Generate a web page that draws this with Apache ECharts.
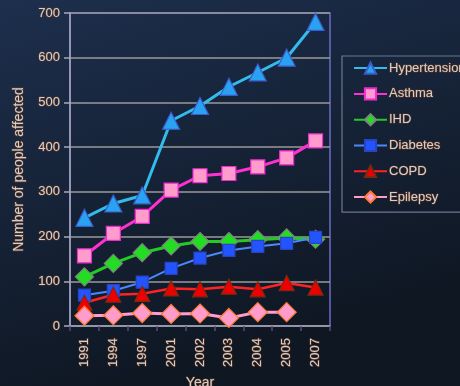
<!DOCTYPE html>
<html>
<head>
<meta charset="utf-8">
<script src="https://cdn.jsdelivr.net/npm/echarts@6/dist/echarts.min.js"></script>
<style>
  html, body { margin: 0; padding: 0; background: #16223a; }
  #chart { width: 460px; height: 386px; }
</style>
</head>
<body>
<div id="chart"></div>
<script>
// Survey years along the category axis
const years = ['1991', '1994', '1997', '2001', '2002', '2003', '2004', '2005', '2007'];

// People affected per condition, one value per survey year
const hypertension = [242, 274, 292, 459, 492, 535, 567, 600, 680];
const asthma       = [157, 207, 245, 304, 336, 341, 356, 376, 414];
const ihd          = [110, 140, 164, 179, 189, 189, 193, 197, 194];
const diabetes     = [ 69,  79,  98, 129, 152, 169, 178, 185, 198];
const copd         = [ 52,  70,  72,  84,  82,  88,  82,  96,  86];
const epilepsy     = [ 23,  24,  29,  27,  28,  18,  31,  31, null];

// Value axis ticks
const yTicks = [0, 100, 200, 300, 400, 500, 600, 700];

const textStyle = {
  color: '#d4d0cc',
  fontFamily: 'Liberation Sans, Arial, sans-serif',
  fontSize: 13,
  textBorderColor: 'rgba(110,60,35,0.85)',
  textBorderWidth: 1.2
};

function lineSeries(name, data, lineColor, lineWidth, symbol, size, fill, border) {
  return {
    name: name,
    type: 'line',
    data: data,
    symbol: symbol,
    symbolSize: size,
    connectNulls: false,
    lineStyle: { color: lineColor, width: lineWidth },
    itemStyle: { color: fill, borderColor: border, borderWidth: 1.2 }
  };
}

const chart = echarts.init(document.getElementById('chart'), null, { renderer: 'canvas' });

chart.setOption({
  backgroundColor: {
    type: 'linear', x: 0, y: 0, x2: 0.25, y2: 1,
    colorStops: [
      { offset: 0, color: '#1d2f4d' },
      { offset: 1, color: '#0f1723' }
    ]
  },
  animation: false,
  grid: {
    left: 70, right: 130, top: 13, bottom: 60,
    outerBoundsMode: 'none',
    containLabel: false,
    show: true,
    borderColor: '#6c6cc8',
    borderWidth: 1.5,
    backgroundColor: 'transparent'
  },
  legend: {
    left: 342, top: 56,
    orient: 'vertical',
    padding: [5, 30, 8, 11],
    itemWidth: 33,
    itemHeight: 14,
    itemGap: 11.6,
    borderColor: '#6a7890',
    borderWidth: 1.2,
    textStyle: Object.assign({}, textStyle, { padding: [0, 0, 0, -3] }),
    data: ['Hypertension', 'Asthma', 'IHD', 'Diabetes', 'COPD', 'Epilepsy']
  },
  xAxis: {
    type: 'category',
    data: years,
    boundaryGap: true,
    name: 'Year',
    nameLocation: 'middle',
    nameGap: 48,
    nameTextStyle: Object.assign({}, textStyle, { fontSize: 14 }),
    axisLine: { lineStyle: { color: '#9a9aae', width: 1.5 } },
    axisTick: { show: true, length: 5, lineStyle: { color: '#5a4a78', width: 1.5 } },
    axisLabel: Object.assign({}, textStyle, { rotate: 90, margin: 12 }),
    splitLine: { show: false }
  },
  yAxis: {
    type: 'value',
    min: yTicks[0],
    max: yTicks[yTicks.length - 1],
    interval: yTicks[1] - yTicks[0],
    name: 'Number of people affected',
    nameLocation: 'middle',
    nameGap: 40,
    nameTextStyle: Object.assign({}, textStyle, { fontSize: 14 }),
    axisLine: { show: true, lineStyle: { color: '#a8a8bc', width: 1.5 } },
    axisTick: { show: true, length: 6, lineStyle: { color: '#a8a8bc', width: 1.5 } },
    axisLabel: Object.assign({}, textStyle, { margin: 10 }),
    splitLine: { show: true, lineStyle: { color: '#9a9a9a', width: 1.5 } }
  },
  series: [
    lineSeries('Hypertension', hypertension, '#33bbee', 3, 'triangle', 17, '#2aa2f2', '#3a5ccc'),
    lineSeries('Asthma', asthma, '#ff30d0', 3, 'rect', 14, '#ff9ccc', '#ee2ad0'),
    lineSeries('IHD', ihd, '#22cc22', 3, 'diamond', 18, '#22dd22', '#7a8a7a'),
    lineSeries('Diabetes', diabetes, '#4a88ff', 2, 'rect', 12, '#2255ff', '#2a44c0'),
    lineSeries('COPD', copd, '#ff2222', 2.5, 'triangle', 15, '#ee0000', '#7a2a10'),
    lineSeries('Epilepsy', epilepsy, '#ff9ccc', 3, 'diamond', 19, '#ff9ccc', '#ff7a30')
  ]
});
</script>
</body>
</html>
